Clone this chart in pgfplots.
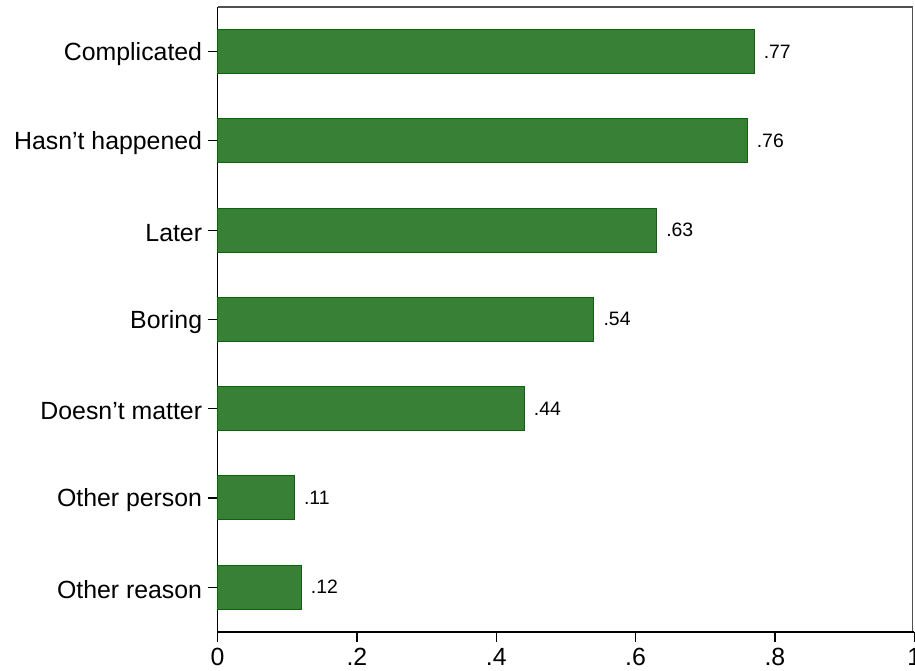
\documentclass[border=0pt]{standalone}
\usepackage{fontspec}
\setmainfont{Liberation Sans}
\usepackage{pgfplots}
\pgfplotsset{compat=1.18}
\definecolor{barfill}{RGB}{55,128,53}
\definecolor{baredge}{RGB}{10,100,10}
\definecolor{framegray}{RGB}{80,80,80}
\begin{document}
\begin{tikzpicture}
\path (-218bp,-39bp) (0bp,633bp);
\draw[draw=framegray, line width=1.5bp] (0bp,626bp) -- (696bp,626bp) -- (696bp,0bp);
\begin{axis}[
  at={(0,0)}, anchor=south west,
  scale only axis, width=698bp, height=626bp,
  xbar, bar width=44bp,
  xmin=0, xmax=1, ymin=0.5, ymax=7.5,
  axis lines*=left, axis line style={-, line width=1.5bp, black},
  xtick={0,0.2,0.4,0.6,0.8,1}, xticklabels={0,.2,.4,.6,.8,{\makebox[0pt][c]{1}}},
  ytick={1,2,3,4,5,6,7},
  yticklabels={Other reason,Other person,Doesn't matter,Boring,Later,Hasn't happened,Complicated},
  tick align=outside, major tick length=10bp, tick style={black, line width=1.2bp},
  ticklabel style={font=\fontsize{25}{30}\selectfont},
  xticklabel style={inner sep=0pt, yshift=-6bp},
  yticklabel style={xshift=-2bp, yshift=-2.5bp},
  nodes near coords, point meta=explicit symbolic,
  every node near coord/.style={font=\fontsize{19.5}{23}\selectfont, black, anchor=west, xshift=6bp},
  clip=false,
]
\addplot[fill=barfill, draw=baredge, line width=1bp] coordinates {
  (0.12,1)[.12]
  (0.11,2)[.11]
  (0.44,3)[.44]
  (0.54,4)[.54]
  (0.63,5)[.63]
  (0.76,6)[.76]
  (0.77,7)[.77]
};
\end{axis}
\end{tikzpicture}
\end{document}
